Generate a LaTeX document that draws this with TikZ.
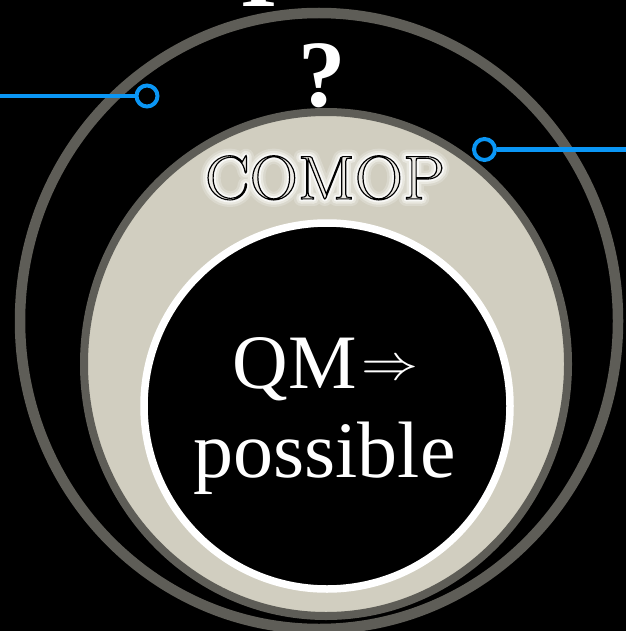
\documentclass[tikz,border=0pt]{standalone}
\usepackage{fontspec}
\usepackage{graphicx}
\newfontfamily\timesfont{Liberation Serif}
\usetikzlibrary{shapes.geometric}
\definecolor{ringgray}{HTML}{5E5D57}
\definecolor{beige}{HTML}{D1CEC0}
\definecolor{linkblue}{HTML}{0A96F5}
\colorlet{glowA}{white!20!beige}
\colorlet{glowB}{white!50!beige}
\colorlet{glowC}{white!85!beige}
\colorlet{letterfill}{white!60!beige}
% stroked-only text (text render mode 1) with a given line width
\newcommand{\strokedonly}[2]{\special{pdf:literal direct #1 w 1 J 1 j 1 Tr}#2\special{pdf:literal direct 0 Tr}}
% filled and stroked text: fill from current colour, black stroke
\newcommand{\outlined}[1]{\special{pdf:literal direct 0 G 1.1 w 2 Tr}#1\special{pdf:literal direct 0 Tr}}
\tikzset{
  ring/.style={ellipse, inner sep=0pt, outer sep=0pt},
  pin/.style={circle, draw=linkblue, line width=4pt, fill=black, minimum size=21pt, inner sep=0pt},
  link/.style={draw=linkblue, line width=4.5pt},
  bigbold/.style={text=white, inner sep=0pt, anchor=base, font=\timesfont\bfseries\fontsize{95}{95}\selectfont},
  comopfont/.style={inner sep=0pt, anchor=base, font=\fontsize{62}{62}\selectfont},
  maintext/.style={text=white, inner sep=0pt, anchor=base, font=\timesfont\fontsize{77}{77}\selectfont}
}
\begin{document}
\begin{tikzpicture}[x=1pt,y=-1pt]
\useasboundingbox (0,0) rectangle (626,631);
\fill[black] (0,0) rectangle (626,631);
\clip (0,0) rectangle (626,631);
% rings
\node[ring, draw=ringgray, line width=10.5pt, fill=black, minimum width=598pt, minimum height=616pt] (outer) at (319,321) {};
\node[ring, draw=ringgray, line width=8pt, fill=beige, minimum width=484pt, minimum height=504pt] (middle) at (326,364) {};
\node[ring, draw=white, line width=7.5pt, fill=black, minimum width=366pt, minimum height=366pt] (inner) at (327,406) {};
% top texts
\node[bigbold] (topfrag) at (259,7) {I};
\node[bigbold] (qmark) at (322,107) {?};
% COMOP: soft glow, then outlined letters
\node[comopfont, text=glowA] (glowwide) at (325,199) {\scalebox{1.08}[1]{\strokedonly{14}{COMOP}}};
\node[comopfont, text=glowB] (glowmid) at (325,199) {\scalebox{1.08}[1]{\strokedonly{9.5}{COMOP}}};
\node[comopfont, text=glowC] (glownarrow) at (325,199) {\scalebox{1.08}[1]{\strokedonly{5}{COMOP}}};
\node[comopfont, text=letterfill] (comop) at (325,199) {\scalebox{1.08}[1]{\outlined{COMOP}}};
% main text
\node[maintext] (qm) at (325.5,388) {QM\hspace{4pt}\raisebox{8.5pt}{\scalebox{5.7}[5.0]{\fontsize{10}{10}\selectfont$\Rightarrow$}}};
\node[maintext, font=\timesfont\fontsize{80}{80}\selectfont] (poss) at (324.5,477) {possible};
% connectors
\node[pin] (lp) at (147,96) {};
\coordinate (le) at (0,96);
\draw[link] (le) -- (lp);
\node[pin] (rp) at (484.5,149.5) {};
\coordinate (re) at (626,149.5);
\draw[link] (rp) -- (re);
\end{tikzpicture}
\end{document}
